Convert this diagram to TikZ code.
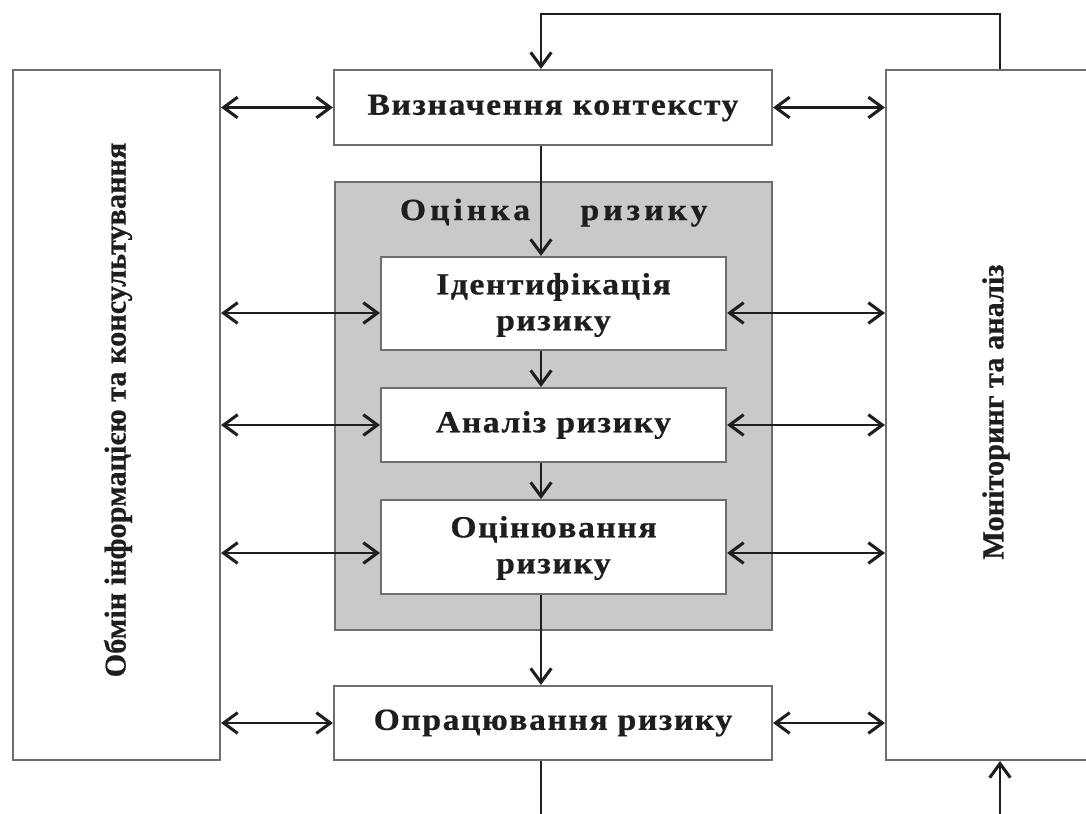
\documentclass[tikz,border=0pt]{standalone}
\usepackage{fontspec}
\setmainfont{Liberation Serif}
\newfontfamily\widefont[LetterSpace=5,FakeStretch=1.1,FakeBold=0.6]{Liberation Serif}
\newfontfamily\headfont[LetterSpace=13,FakeStretch=1.1,FakeBold=0.6]{Liberation Serif}
\newfontfamily\sidefont[FakeBold=0.6]{Liberation Serif}
\usetikzlibrary{arrows.meta}
\definecolor{boxline}{HTML}{6E6E6E}
\definecolor{panel}{HTML}{C9C9C9}
\definecolor{ink}{HTML}{1E1E1E}
\tikzset{
  box/.style={draw=boxline, line width=1.6pt, fill=white, inner sep=0pt, rectangle},
  panelbox/.style={draw=boxline, line width=1.6pt, fill=panel, inner sep=0pt, rectangle},
  lbl/.style={font=\widefont\bfseries\fontsize{23}{27}\selectfont, align=center, text=ink},
  hlbl/.style={font=\headfont\bfseries\fontsize{23}{27}\selectfont, text=ink},
  vlbl/.style={font=\sidefont\bfseries\fontsize{22.7}{27}\selectfont, text=ink, rotate=90},
  conn/.style={draw=ink, line width=1.8pt},
  barb/.tip={Straight Barb[length=10.5pt,width=15.5pt,line width=2.3pt]},
  arr/.style={conn, -barb},
  darr/.style={conn, barb-barb},
}
\begin{document}
\begin{tikzpicture}[x=0.75pt,y=-0.75pt]
\useasboundingbox (0,0) rectangle (1086,814);
\clip (0,0) rectangle (1086,814);
\fill[white] (0,0) rectangle (1086,814);
% big side boxes
\node[box, minimum width=155.25pt, minimum height=517.5pt] (L) at (116.5,415) {};
\node[box, minimum width=160.5pt, minimum height=517.5pt] (R) at (993,415) {};
\node[vlbl] (Ltxt) at (118,410) {Обмін інформацією та консультування};
\node[vlbl] (Rtxt) at (996,412) {Моніторинг та аналіз};
% central boxes
\node[box, minimum width=328.5pt, minimum height=56.25pt] (C) at (553,107.5) {};
\node[lbl] (Ctxt) at (553,108) {Визначення контексту};
\node[panelbox, minimum width=327.75pt, minimum height=336pt] (G) at (553.5,406) {};
\node[hlbl, anchor=base] (G1) at (465,220) {Оцінка};
\node[hlbl, anchor=base] (G2) at (644,220) {ризику};
\node[box, minimum width=258.75pt, minimum height=69.75pt] (I) at (553.5,303.5) {};
\node[lbl] (Itxt) at (553.5,305) {Ідентифікація\\ризику};
\node[box, minimum width=258.75pt, minimum height=55.5pt] (A) at (553.5,425) {};
\node[lbl] (Atxt) at (553.5,425) {Аналіз ризику};
\node[box, minimum width=258.75pt, minimum height=70.5pt] (E) at (553.5,547) {};
\node[lbl] (Etxt) at (553.5,548) {Оцінювання\\ризику};
\node[box, minimum width=328.5pt, minimum height=55.5pt] (T) at (553,723) {};
\node[lbl] (Ttxt) at (553,723) {Опрацювання ризику};
% helper coordinates
\coordinate (vx) at (541,0);
\coordinate (fx) at (1000,0);
\coordinate (topy) at (0,14);
\coordinate (boty) at (0,830);
\coordinate (yI) at (0,313);
\coordinate (yA) at (0,425);
\coordinate (yE) at (0,553);
% vertical flow
\draw[arr] (C.south -| vx) -- (I.north -| vx);
\draw[arr] (I.south -| vx) -- (A.north -| vx);
\draw[arr] (A.south -| vx) -- (E.north -| vx);
\draw[arr] (E.south -| vx) -- (T.north -| vx);
\draw[conn] (T.south -| vx) -- (vx |- boty);
\draw[arr] (fx |- boty) -- (R.south -| fx);
% feedback on top
\draw[arr] (R.north -| fx) -- (fx |- topy) -- (vx |- topy) -- (C.north -| vx);
% horizontal double arrows
\draw[darr] (L.east |- C) -- (C.west);
\draw[darr] (C.east) -- (R.west |- C);
\draw[darr] (L.east |- yI) -- (I.west |- yI);
\draw[darr] (I.east |- yI) -- (R.west |- yI);
\draw[darr] (L.east |- yA) -- (A.west |- yA);
\draw[darr] (A.east |- yA) -- (R.west |- yA);
\draw[darr] (L.east |- yE) -- (E.west |- yE);
\draw[darr] (E.east |- yE) -- (R.west |- yE);
\draw[darr] (L.east |- T) -- (T.west);
\draw[darr] (T.east) -- (R.west |- T);
\end{tikzpicture}
\end{document}
